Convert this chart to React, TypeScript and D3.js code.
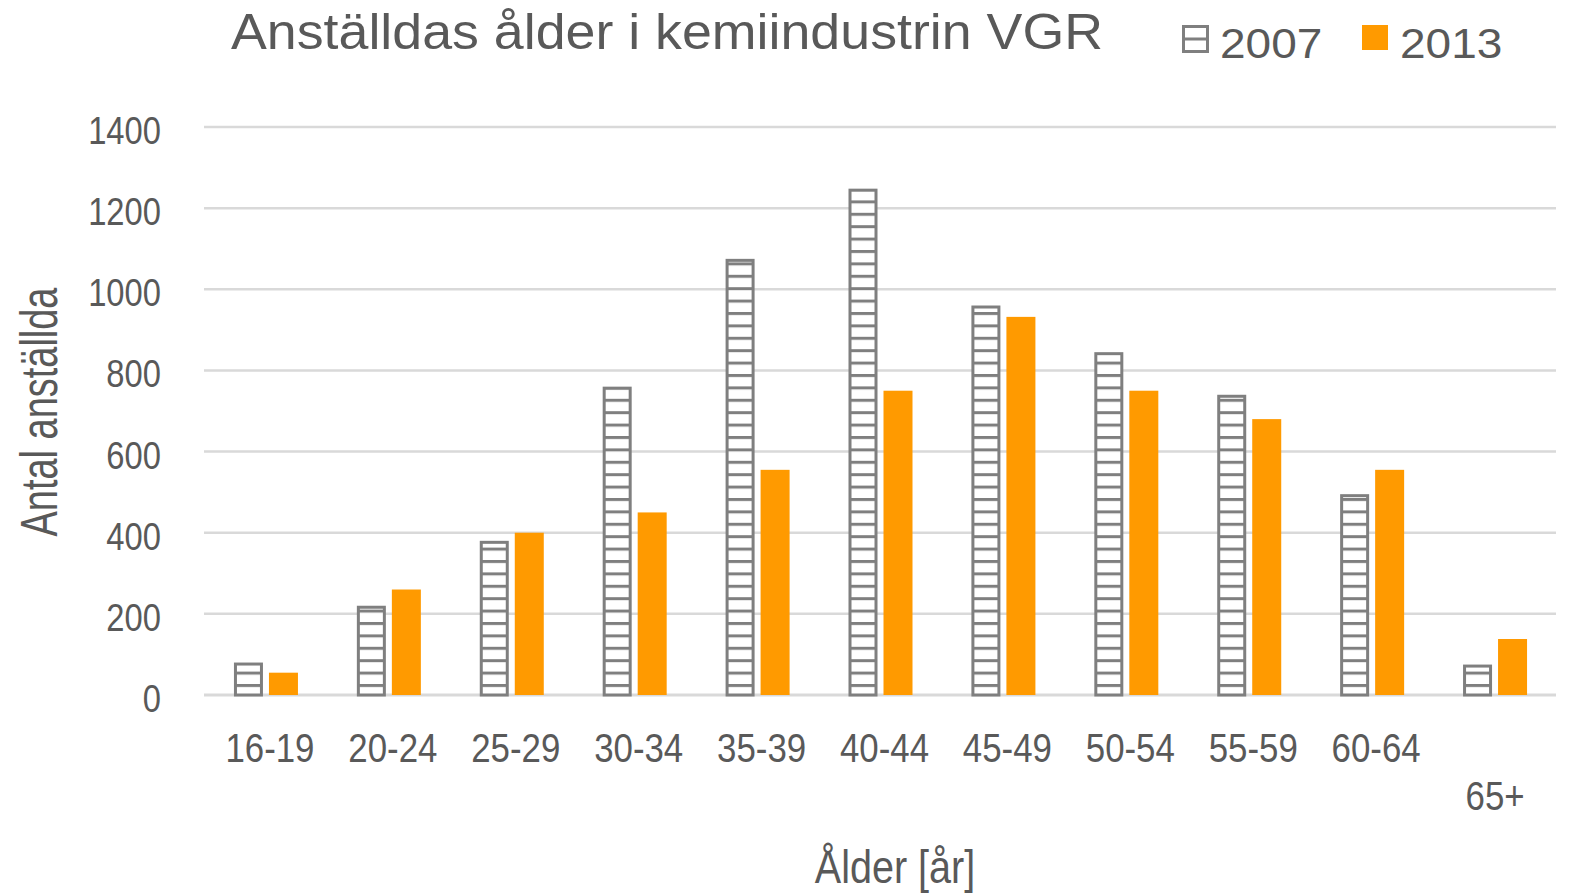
import React from 'react';
import * as d3 from 'd3';

const categories = ['16-19', '20-24', '25-29', '30-34', '35-39', '40-44', '45-49', '50-54', '55-59', '60-64', '65+'];
const seriesNames = ['2007', '2013'];
const values2007 = [80, 220, 380, 760, 1075, 1248, 960, 845, 740, 495, 75];
const values2013 = [55, 260, 400, 450, 555, 750, 932, 750, 680, 555, 138];
const yTicks = [0, 200, 400, 600, 800, 1000, 1200, 1400];

const title = 'Anställdas ålder i kemiindustrin VGR';
const xTitle = 'Ålder [år]';
const yTitle = 'Antal anställda';

const W = 1575;
const H = 893;
const FONT = '"Liberation Sans", Arial, sans-serif';
const TEXT = '#595959';
const GRID = '#d9d9d9';
const GREY = '#7f7f7f';
const ORANGE = '#ff9a00';

// stretched text, the source screenshot is not uniformly scaled
function SText({x, y, sx = 1, size, anchor = 'middle', rotate = 0, children}) {
    return (
        <text
            transform={`translate(${x},${y}) rotate(${rotate}) scale(${sx},1)`}
            fontSize={size}
            fontFamily={FONT}
            fill={TEXT}
            textAnchor={anchor}
        >
            {children}
        </text>
    );
}

export default function App() {
    const x0 = d3.scaleBand().domain(categories).range([204.5, 1556.5]);
    const x1 = d3.scaleBand().domain(seriesNames).range([0, 70]);
    const y = d3.scaleLinear().domain([0, 1400]).range([695, 127]);

    const slot = x1.bandwidth();
    const barW = 29;
    const series = [values2007, values2013];

    return (
        <div style={{position: 'absolute', left: 0, top: 0}}>
            <svg width={W} height={H} style={{display: 'block', background: '#fff'}}>
                <defs>
                    <pattern id='stripes' patternUnits='userSpaceOnUse' width='10' height='12.4' y='2'>
                        <rect width='10' height='12.4' fill='#fff' />
                        <rect width='10' height='3' fill={GREY} />
                    </pattern>
                </defs>

                {/* gridlines */}
                {yTicks.map((t) => (
                    <line key={t} x1={204} x2={1556} y1={y(t)} y2={y(t)}
                        stroke={GRID} strokeWidth={t === 0 ? 3 : 2.5} />
                ))}

                {/* y tick labels */}
                {yTicks.map((t) => (
                    <SText key={t} x={161} y={y(t) + 17} size={39} sx={0.84} anchor='end'>{t}</SText>
                ))}

                {/* bars */}
                {categories.map((c, i) => {
                    const base = x0(c) + x0.bandwidth() / 2 - 35;
                    return seriesNames.map((s, k) => {
                        const v = series[k][i];
                        const bx = k === 0 ? base + x1(s) + slot - barW - 3 : base + x1(s) + 3;
                        if (k === 0) {
                            return (
                                <rect key={c + s} x={bx + 1.5} y={y(v) + 1.5} width={barW - 3}
                                    height={y(0) - y(v) - 1.5}
                                    fill='url(#stripes)' stroke={GREY} strokeWidth={3} />
                            );
                        }
                        return (
                            <rect key={c + s} x={bx} y={y(v)} width={barW}
                                height={y(0) - y(v)} fill={ORANGE} />
                        );
                    });
                })}

                {/* x tick labels, the last one wraps to a second row */}
                {categories.map((c, i) => {
                    const last = i === categories.length - 1;
                    return (
                        <SText key={c} x={x0(c) + x0.bandwidth() / 2 + (last ? 0 : 4)}
                            y={last ? 810 : 762} size={41} sx={0.85}>{c}</SText>
                    );
                })}

                {/* axis titles */}
                <SText x={895} y={883} size={46} sx={0.86}>{xTitle}</SText>
                <SText x={57} y={412} size={52} sx={0.73} rotate={-90}>{yTitle}</SText>

                {/* title */}
                <SText x={231} y={49} size={50} sx={1.075} anchor='start'>{title}</SText>

                {/* legend */}
                <rect x={1183.5} y={26.5} width={24} height={25} fill='#fff' stroke={GREY} strokeWidth={3} />
                <line x1={1183.5} x2={1207.5} y1={39} y2={39} stroke={GREY} strokeWidth={3} />
                <SText x={1220} y={58} size={43} sx={1.07} anchor='start'>{seriesNames[0]}</SText>
                <rect x={1362} y={25} width={26} height={25} fill={ORANGE} />
                <SText x={1400} y={58} size={43} sx={1.07} anchor='start'>{seriesNames[1]}</SText>
            </svg>
        </div>
    );
}
